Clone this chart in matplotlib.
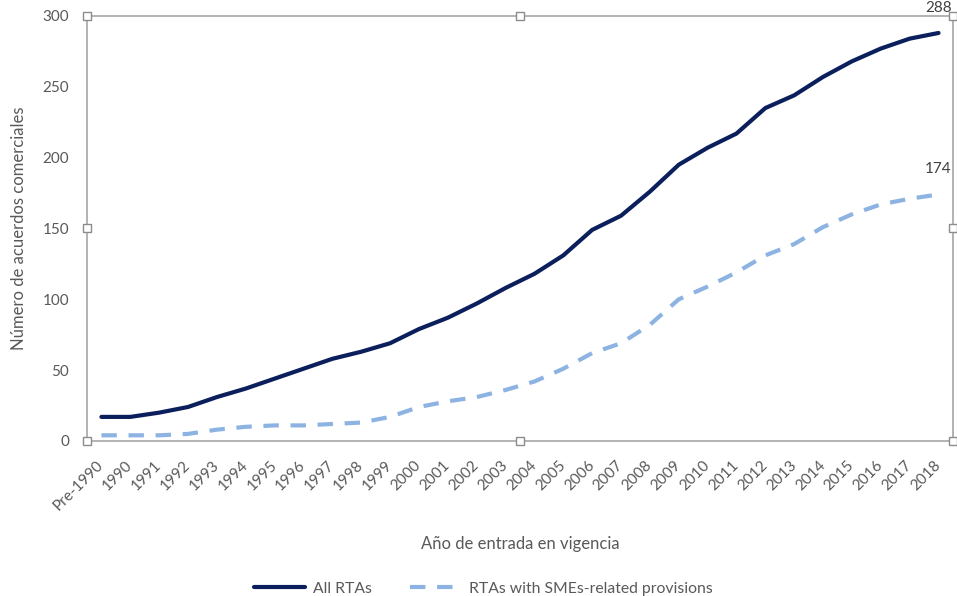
import matplotlib.pyplot as plt

plt.rcParams['font.family'] = ['Lato', 'DejaVu Sans']

# Data
years = ['Pre-1990'] + [str(y) for y in range(1990, 2019)]
all_rtas = [17, 17, 20, 24, 31, 37, 44, 51, 58, 63, 69, 79, 87, 97, 108, 118, 131, 149, 159, 176,
            195, 207, 217, 235, 244, 257, 268, 277, 284, 288]
sme_rtas = [4, 4, 4, 5, 8, 10, 11, 11, 12, 13, 17, 24, 28, 31, 36, 42, 51, 62, 69, 82,
            100, 109, 119, 131, 139, 151, 160, 167, 171, 174]

navy = '#0b1f5c'
light = '#8db3e2'
grey_txt = '#595959'
border = '#a6a6a6'

fig = plt.figure(figsize=(9.57, 5.96), dpi=100)
ax = fig.add_axes([0.0909, 0.2601, 0.9049, 0.7131])

x = list(range(len(years)))
ax.plot(x, all_rtas, color=navy, lw=3, solid_capstyle='round', label='All RTAs')
ax.plot(x, sme_rtas, color=light, lw=3, dashes=(3.7, 2.8), label='RTAs with SMEs-related provisions')

# end labels
ax.annotate(str(all_rtas[-1]), (x[-1], all_rtas[-1]), xytext=(0, 18), textcoords='offset points',
            ha='center', va='center', fontsize=11, color='#404040', annotation_clip=False)
ax.annotate(str(sme_rtas[-1]), (x[-1], sme_rtas[-1]), xytext=(0, 18), textcoords='offset points',
            ha='center', va='center', fontsize=11, color='#404040', annotation_clip=False)

ax.set_xlim(-0.5, len(years) - 0.5)
ax.set_ylim(0, 300)
ax.set_yticks(range(0, 301, 50))
ax.set_xticks(x)
ax.set_xticklabels(years, rotation=45, ha='right', va='center', rotation_mode='anchor')
ax.tick_params(axis='both', length=0, colors=grey_txt, labelsize=11)
ax.tick_params(axis='x', pad=16)
ax.tick_params(axis='y', pad=13)

for s in ax.spines.values():
    s.set_color(border)
    s.set_linewidth(1.2)

ax.set_xlabel('Año de entrada en vigencia', fontsize=12, color=grey_txt, labelpad=16)
ax.set_ylabel('Número de acuerdos comerciales', fontsize=12, color=grey_txt, labelpad=11)

# selection handles on the plot area
hx = [0, 0.5, 1, 0, 1, 0, 0.5, 1]
hy = [1, 1, 1, 0.5, 0.5, 0, 0, 0]
ax.plot(hx, hy, ls='none', marker='s', ms=5.5, mfc='white', mec='#8c8c8c', mew=1,
        transform=ax.transAxes, clip_on=False, zorder=5)

fig.legend(loc='center', bbox_to_anchor=(0.505, 0.012), ncol=2, frameon=False,
           fontsize=11.3, handlelength=3.3, handletextpad=0.5, columnspacing=2.4,
           labelcolor=grey_txt)

fig.savefig('out.png', dpi=100)
